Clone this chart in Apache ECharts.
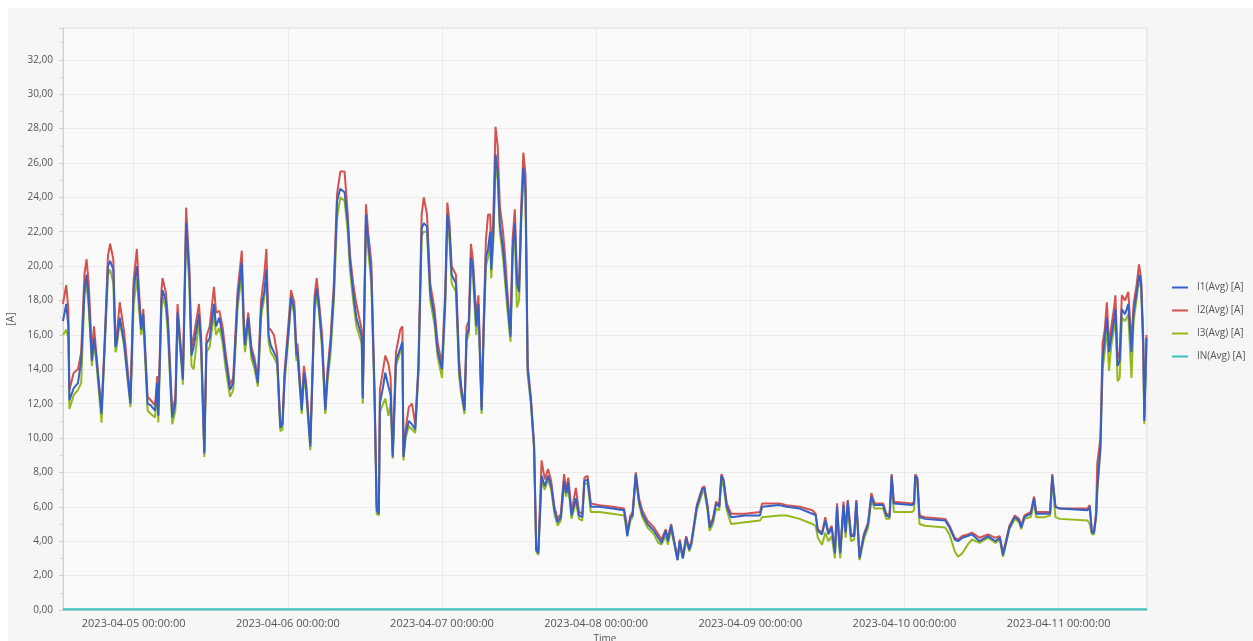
<!DOCTYPE html>
<html>
<head>
<meta charset="utf-8">
<script src="https://cdn.jsdelivr.net/npm/echarts@6/dist/echarts.min.js"></script>
<style>
html,body{margin:0;padding:0;background:#ffffff;}
#main{width:1253px;height:641px;}
</style>
</head>
<body>
<div id="main"></div>
<script>
// ---- data ----
const times = [
  // 2023-04-04
  '2023-04-04 13:00','2023-04-04 13:30','2023-04-04 13:50','2023-04-04 14:00','2023-04-04 14:40','2023-04-04 15:20','2023-04-04 15:50','2023-04-04 16:20','2023-04-04 16:40','2023-04-04 17:00',
  '2023-04-04 17:30','2023-04-04 17:50','2023-04-04 18:10','2023-04-04 19:00','2023-04-04 19:30','2023-04-04 20:00','2023-04-04 20:20','2023-04-04 20:50','2023-04-04 21:10','2023-04-04 21:20',
  '2023-04-04 21:50','2023-04-04 22:30','2023-04-04 23:30',
  // 2023-04-05
  '2023-04-05 00:00','2023-04-05 00:30','2023-04-05 00:50','2023-04-05 01:10','2023-04-05 01:30','2023-04-05 02:10','2023-04-05 02:40','2023-04-05 03:20','2023-04-05 03:40','2023-04-05 03:50',
  '2023-04-05 04:20','2023-04-05 04:30','2023-04-05 05:00','2023-04-05 05:20','2023-04-05 06:00','2023-04-05 06:30','2023-04-05 06:50','2023-04-05 07:20','2023-04-05 07:40','2023-04-05 08:10',
  '2023-04-05 08:40','2023-04-05 09:00','2023-04-05 09:20','2023-04-05 10:10','2023-04-05 10:30','2023-04-05 11:00','2023-04-05 11:20','2023-04-05 11:50','2023-04-05 12:30','2023-04-05 12:50',
  '2023-04-05 13:20','2023-04-05 13:50','2023-04-05 14:20','2023-04-05 15:00','2023-04-05 15:30','2023-04-05 16:10','2023-04-05 16:50','2023-04-05 17:10','2023-04-05 17:20','2023-04-05 17:50',
  '2023-04-05 18:20','2023-04-05 18:50','2023-04-05 19:20','2023-04-05 19:50','2023-04-05 20:20','2023-04-05 20:40','2023-04-05 21:00','2023-04-05 21:20','2023-04-05 21:50','2023-04-05 22:20',
  '2023-04-05 22:50','2023-04-05 23:10','2023-04-05 23:30',
  // 2023-04-06
  '2023-04-06 00:10','2023-04-06 00:30','2023-04-06 01:00','2023-04-06 01:20','2023-04-06 01:30','2023-04-06 02:10','2023-04-06 02:30','2023-04-06 02:50','2023-04-06 03:30','2023-04-06 04:10',
  '2023-04-06 04:30','2023-04-06 04:50','2023-04-06 05:20','2023-04-06 05:50','2023-04-06 06:10','2023-04-06 06:40','2023-04-06 07:10','2023-04-06 07:40','2023-04-06 08:10','2023-04-06 08:50',
  '2023-04-06 09:20','2023-04-06 09:40','2023-04-06 10:10','2023-04-06 10:40','2023-04-06 11:30','2023-04-06 11:40','2023-04-06 12:10','2023-04-06 12:30','2023-04-06 13:00','2023-04-06 13:30',
  '2023-04-06 13:50','2023-04-06 14:10','2023-04-06 14:20','2023-04-06 14:50','2023-04-06 15:10','2023-04-06 15:40','2023-04-06 16:00','2023-04-06 16:20','2023-04-06 16:50','2023-04-06 17:30',
  '2023-04-06 17:50','2023-04-06 18:00','2023-04-06 18:20','2023-04-06 18:50','2023-04-06 19:20','2023-04-06 19:50','2023-04-06 20:20','2023-04-06 20:50','2023-04-06 21:10','2023-04-06 21:40',
  '2023-04-06 22:10','2023-04-06 22:50','2023-04-06 23:20',
  // 2023-04-07
  '2023-04-07 00:00','2023-04-07 00:30','2023-04-07 00:50','2023-04-07 01:10','2023-04-07 01:30','2023-04-07 02:10','2023-04-07 02:40','2023-04-07 03:00','2023-04-07 03:30','2023-04-07 03:50',
  '2023-04-07 04:10','2023-04-07 04:30','2023-04-07 04:50','2023-04-07 05:20','2023-04-07 05:40','2023-04-07 06:10','2023-04-07 06:30','2023-04-07 06:50','2023-04-07 07:10','2023-04-07 07:30',
  '2023-04-07 07:40','2023-04-07 08:00','2023-04-07 08:20','2023-04-07 08:40','2023-04-07 09:00','2023-04-07 09:30','2023-04-07 09:50','2023-04-07 10:10','2023-04-07 10:40','2023-04-07 11:00',
  '2023-04-07 11:20','2023-04-07 11:40','2023-04-07 12:00','2023-04-07 12:20','2023-04-07 12:40','2023-04-07 13:00','2023-04-07 13:20','2023-04-07 13:50','2023-04-07 14:20','2023-04-07 14:40',
  '2023-04-07 15:00','2023-04-07 15:30','2023-04-07 16:00','2023-04-07 16:30','2023-04-07 17:00','2023-04-07 17:30','2023-04-07 18:00','2023-04-07 18:30','2023-04-07 19:00','2023-04-07 19:20',
  '2023-04-07 19:40','2023-04-07 20:10','2023-04-07 20:50','2023-04-07 21:20','2023-04-07 21:50','2023-04-07 22:10','2023-04-07 22:40','2023-04-07 23:10',
  // 2023-04-08
  '2023-04-08 00:30','2023-04-08 02:30','2023-04-08 04:20','2023-04-08 04:40','2023-04-08 04:50','2023-04-08 05:20','2023-04-08 05:40','2023-04-08 06:10','2023-04-08 06:40','2023-04-08 07:10',
  '2023-04-08 08:00','2023-04-08 09:00','2023-04-08 09:40','2023-04-08 10:10','2023-04-08 10:50','2023-04-08 11:10','2023-04-08 11:40','2023-04-08 12:10','2023-04-08 12:40','2023-04-08 13:00',
  '2023-04-08 13:30','2023-04-08 14:00','2023-04-08 14:30','2023-04-08 14:50','2023-04-08 15:40','2023-04-08 16:30','2023-04-08 16:50','2023-04-08 17:20','2023-04-08 17:40','2023-04-08 18:10',
  '2023-04-08 18:40','2023-04-08 19:10','2023-04-08 19:30','2023-04-08 19:50','2023-04-08 20:20','2023-04-08 21:00','2023-04-08 23:10',
  // 2023-04-09
  '2023-04-09 01:30','2023-04-09 01:50','2023-04-09 04:30','2023-04-09 05:40','2023-04-09 07:40','2023-04-09 09:40','2023-04-09 10:10','2023-04-09 10:30','2023-04-09 11:10','2023-04-09 11:40',
  '2023-04-09 12:10','2023-04-09 12:40','2023-04-09 13:10','2023-04-09 13:30','2023-04-09 13:50','2023-04-09 14:00','2023-04-09 14:30','2023-04-09 14:50','2023-04-09 15:10','2023-04-09 15:40',
  '2023-04-09 16:10','2023-04-09 16:30','2023-04-09 17:00','2023-04-09 17:40','2023-04-09 18:20','2023-04-09 18:50','2023-04-09 19:20','2023-04-09 20:40','2023-04-09 21:10','2023-04-09 21:40',
  '2023-04-09 22:00','2023-04-09 22:20',
  // 2023-04-10
  '2023-04-10 01:10','2023-04-10 01:30','2023-04-10 01:40','2023-04-10 02:00','2023-04-10 02:20','2023-04-10 03:10','2023-04-10 06:20','2023-04-10 07:00','2023-04-10 07:50','2023-04-10 08:20',
  '2023-04-10 09:00','2023-04-10 09:50','2023-04-10 10:30','2023-04-10 11:40','2023-04-10 13:00','2023-04-10 14:10','2023-04-10 14:50','2023-04-10 15:20','2023-04-10 15:50','2023-04-10 16:20',
  '2023-04-10 17:10','2023-04-10 17:50','2023-04-10 18:10','2023-04-10 18:40','2023-04-10 19:40','2023-04-10 20:10','2023-04-10 20:30','2023-04-10 21:50','2023-04-10 22:40','2023-04-10 23:00',
  '2023-04-10 23:30',
  // 2023-04-11
  '2023-04-11 00:10','2023-04-11 04:30','2023-04-11 04:50','2023-04-11 05:10','2023-04-11 05:30','2023-04-11 05:50','2023-04-11 06:00','2023-04-11 06:30','2023-04-11 06:50','2023-04-11 07:10',
  '2023-04-11 07:30','2023-04-11 07:50','2023-04-11 08:10','2023-04-11 08:40','2023-04-11 08:50','2023-04-11 09:10','2023-04-11 09:30','2023-04-11 09:50','2023-04-11 10:20','2023-04-11 10:50',
  '2023-04-11 11:20','2023-04-11 11:40','2023-04-11 12:10','2023-04-11 12:30','2023-04-11 12:50','2023-04-11 13:10','2023-04-11 13:20','2023-04-11 13:40'
];

const i1 = [
  16.8,17.8,16.5,12.2,12.9,13.2,14.5,18.5,19.5,18.0, 14.5,15.8,14.8,11.4,15.5,20.0,20.3,19.8,15.3,15.5, 17.0,15.6,12.0,
  18.7,20.0,18.0,16.3,17.2,12.0,11.9,11.6,13.2,11.3, 18.0,18.6,18.0,16.6,11.2,12.0,17.3,15.0,13.4,22.5, 19.5,14.8,15.3,17.2,15.5,9.1,15.5,15.8,17.8,16.5, 17.0,16.0,14.5,12.8,13.2,18.0,20.2,16.2,15.4,17.0, 15.0,14.3,13.2,17.5,18.5,19.8,16.0,15.4,15.0,14.6, 10.6,10.8,13.6,
  16.5,18.2,17.5,14.8,15.0,11.6,13.8,13.0,9.5,17.8, 18.7,17.7,15.5,11.6,13.6,15.5,18.5,23.8,24.5,24.3, 22.5,20.3,18.5,17.0,15.9,12.3,23.0,21.5,19.5,12.5, 5.8,5.6,12.0,13.0,13.8,13.0,12.5,8.9,14.5,15.2, 15.6,8.9,10.2,11.0,10.8,10.5,14.0,22.2,22.5,22.3, 18.5,17.0,15.0,
  14.0,18.0,23.0,22.0,19.5,19.0,14.0,12.8,11.6,16.0, 16.3,20.5,19.8,16.5,17.8,11.6,16.5,20.5,21.0,22.0, 19.8,22.0,26.5,25.5,22.5,21.0,19.5,18.0,15.9,21.0, 22.5,19.0,18.5,23.0,25.7,24.5,14.0,12.2,9.5,3.5, 3.3,7.8,7.2,7.8,7.2,5.8,5.1,5.4,7.5,6.8, 7.4,5.5,6.5,5.5,5.4,7.5,7.6,6.0,
  6.0,5.9,5.8,5.0,4.3,5.4,5.5,7.9,6.3,5.6, 5.0,4.6,4.2,3.9,4.6,4.0,4.9,3.9,2.9,4.0, 3.0,4.2,3.5,3.9,6.0,7.0,7.1,6.0,4.8,5.2, 6.2,6.0,7.8,7.5,6.0,5.4,5.5,
  5.5,6.0,6.1,6.0,5.9,5.6,5.5,4.6,4.4,5.2, 4.4,4.8,3.3,6.0,4.0,3.3,6.1,4.5,6.3,4.3, 4.3,6.3,3.0,4.3,5.0,6.6,6.1,6.1,5.5,5.4, 7.8,6.2,
  6.1,6.2,7.8,7.6,5.4,5.3,5.2,4.8,4.1,4.0, 4.2,4.3,4.4,4.0,4.3,4.0,4.2,3.2,4.0,4.8, 5.4,5.2,4.8,5.4,5.6,6.5,5.6,5.6,5.6,7.8, 6.0,
  5.9,5.8,6.0,4.5,4.5,5.5,7.0,9.5,14.5,15.8, 17.0,15.0,15.8,17.0,17.5,14.2,14.5,17.5,17.2,17.8, 15.0,17.3,18.5,19.5,19.0,15.5,11.0,15.8
];

const i2 = [
  17.8,18.9,17.5,12.8,13.8,14.0,15.0,19.5,20.4,19.0, 15.0,16.5,15.0,11.6,15.8,20.6,21.3,20.4,15.6,15.8, 17.9,16.2,12.3,
  19.2,21.0,18.6,16.5,17.5,12.4,12.2,11.9,13.6,11.6, 18.6,19.3,18.5,17.0,11.5,12.4,17.8,15.3,13.6,23.4, 20.0,15.2,15.9,17.8,16.0,9.2,15.9,16.5,18.8,17.3, 17.4,16.5,14.9,13.1,13.5,18.5,20.9,16.6,15.7,17.3, 15.3,14.6,13.4,18.0,19.5,21.0,16.4,16.3,16.0,14.9, 10.8,11.0,13.9,
  17.0,18.6,17.9,15.2,15.5,11.8,14.2,13.3,9.7,18.3, 19.3,18.0,16.0,11.8,13.9,15.9,19.0,24.2,25.5,25.5, 23.0,20.7,19.0,17.8,16.3,12.5,23.6,22.0,20.2,12.8, 6.0,5.8,12.8,14.0,14.8,14.3,13.5,9.0,15.0,16.3, 16.5,9.0,10.5,11.8,12.0,10.8,14.3,23.0,24.0,23.0, 19.0,17.5,15.5,
  14.3,18.5,23.7,22.5,20.0,19.5,14.5,13.0,11.8,16.5, 16.8,21.3,20.3,17.0,18.3,11.8,17.0,21.5,23.0,23.0, 20.3,23.0,28.1,27.0,23.5,22.0,20.5,18.6,16.3,21.6, 23.3,19.5,19.0,23.5,26.6,25.3,14.3,12.4,9.7,3.6, 3.5,8.7,7.6,8.2,7.5,6.0,5.3,5.6,7.9,7.0, 7.7,5.7,7.1,5.7,5.6,7.7,7.8,6.2,
  6.1,6.0,5.9,5.2,4.5,5.5,5.7,8.0,6.5,5.8, 5.2,4.8,4.4,4.1,4.7,4.2,5.0,4.0,3.0,4.1, 3.1,4.3,3.6,4.0,6.1,7.1,7.2,6.1,5.0,5.3, 6.3,6.1,7.9,7.6,6.2,5.6,5.6,
  5.7,6.2,6.2,6.1,6.0,5.8,5.6,4.7,4.5,5.4, 4.5,4.9,3.4,6.2,4.1,3.4,6.3,4.6,6.4,4.4, 4.4,6.4,3.1,4.4,5.1,6.8,6.2,6.2,5.6,5.5, 7.9,6.3,
  6.2,6.3,7.9,7.7,5.5,5.4,5.3,4.9,4.2,4.1, 4.3,4.4,4.5,4.2,4.4,4.2,4.3,3.3,4.1,4.9, 5.5,5.3,4.9,5.5,5.7,6.6,5.7,5.7,5.7,7.9, 6.0,
  5.9,5.9,6.1,4.6,4.6,5.7,8.5,10.0,15.5,16.3, 17.9,15.5,16.4,17.7,18.3,14.6,15.0,18.3,18.0,18.5, 15.5,17.8,19.0,20.1,19.3,15.8,11.2,16.0
];

const i3 = [
  16.0,16.3,15.8,11.7,12.5,12.8,13.2,18.3,19.0,17.6, 14.2,15.5,14.5,10.9,15.3,19.5,19.8,19.0,15.0,15.2, 16.8,15.4,11.8,
  17.8,19.3,17.5,16.0,16.8,11.6,11.4,11.2,12.9,10.9, 17.6,18.2,17.6,16.0,10.8,11.6,17.0,14.8,13.1,22.0, 19.0,14.2,14.0,16.8,15.0,8.9,15.0,15.3,17.2,16.0, 16.4,15.6,14.0,12.4,12.8,17.5,19.6,15.8,15.0,16.6, 14.6,14.0,13.0,17.0,18.2,19.3,15.6,15.0,14.7,14.3, 10.4,10.5,13.3,
  16.2,17.9,17.2,14.5,14.7,11.4,13.5,12.7,9.3,17.4, 18.3,17.4,15.2,11.4,13.2,15.0,18.0,22.8,24.0,23.8, 22.0,19.8,18.0,16.5,15.5,12.0,22.5,21.0,19.0,12.2, 5.6,5.5,11.5,12.0,12.3,11.3,12.0,8.8,14.2,15.0, 15.3,8.7,10.0,10.7,10.5,10.3,13.8,21.8,22.0,22.0, 18.0,16.6,14.7,
  13.5,17.6,22.6,21.5,19.0,18.5,13.6,12.5,11.4,15.7, 16.0,20.0,19.3,16.0,17.5,11.4,16.2,20.0,20.5,21.3, 19.3,21.5,26.0,25.0,22.0,20.5,19.0,17.5,15.6,20.5, 22.0,17.6,18.0,22.5,25.3,24.0,13.7,12.0,9.3,3.4, 3.2,7.5,7.0,7.6,7.0,5.6,4.9,5.2,7.3,6.6, 7.2,5.3,6.3,5.3,5.2,7.3,7.4,5.7,
  5.7,5.6,5.5,4.8,4.3,5.2,5.4,7.7,6.2,5.4, 4.8,4.4,3.9,3.8,4.3,3.8,4.7,3.8,2.9,3.8, 3.0,4.0,3.4,3.8,5.8,6.8,6.9,5.8,4.6,5.0, 5.9,5.8,7.5,7.2,5.8,5.0,5.1,
  5.2,5.4,5.5,5.5,5.3,5.0,4.9,4.2,3.8,4.5, 4.0,4.3,3.0,5.6,3.7,3.0,5.8,4.2,6.0,4.0, 4.1,6.1,2.9,4.1,4.8,6.4,5.9,5.9,5.3,5.3, 7.5,5.7,
  5.7,5.8,7.6,7.3,5.0,4.9,4.8,4.4,3.4,3.1, 3.3,3.8,4.1,3.9,4.2,3.9,4.1,3.1,3.9,4.7, 5.3,5.1,4.7,5.3,5.4,6.3,5.4,5.4,5.5,7.6, 5.4,
  5.3,5.2,5.0,4.4,4.4,5.4,6.8,9.3,14.0,15.0, 16.5,13.9,15.3,16.5,17.0,13.3,13.5,17.0,16.8,17.2, 13.5,16.8,18.2,19.2,18.7,15.0,10.8,15.5
];

const inTimes = ['2023-04-04 13:00', '2023-04-11 13:45'];
const inValues = [0.05, 0.05];

const seriesNames = ['I1(Avg) [A]', 'I2(Avg) [A]', 'I3(Avg) [A]', 'IN(Avg) [A]'];
const seriesColors = ['#3561c6', '#d4524d', '#95b91c', '#3fc1c0'];
const yTickValues = [0, 32];
const xRange = ['2023-04-04 13:00', '2023-04-11 13:45'];

// ---- chart ----
const pairs = (ts, vals) => ts.map((t, k) => [t, vals[k]]);
const chart = echarts.init(document.getElementById('main'), null, {renderer: 'canvas'});
const lineSeries = (idx, ts, vals, z) => ({
  name: seriesNames[idx],
  type: 'line',
  data: pairs(ts, vals),
  symbol: 'none',
  showSymbol: false,
  z: z,
  lineStyle: {color: seriesColors[idx], width: 2},
  itemStyle: {color: seriesColors[idx]},
  animation: false
});

chart.setOption({
  animation: false,
  backgroundColor: '#ffffff',
  textStyle: {fontFamily: 'Open Sans, Noto Sans, sans-serif'},
  graphic: [{
    type: 'rect', z: -100, silent: true,
    shape: {x: 8, y: 8, width: 1245, height: 633},
    style: {fill: '#f6f6f6'}
  }],
  grid: {
    left: 63, right: 106, top: 28, bottom: 31,
    outerBoundsMode: 'none', containLabel: false,
    show: true, backgroundColor: '#fafafa', borderColor: '#dcdcdc', borderWidth: 1
  },
  legend: {
    orient: 'vertical',
    left: 1167, top: 276,
    icon: 'rect',
    itemWidth: 16, itemHeight: 2, itemGap: 10,
    data: seriesNames,
    textStyle: {fontSize: 10, color: '#555', fontFamily: 'Open Sans, sans-serif', padding: [0, 0, 0, 4], lineHeight: 13}
  },
  xAxis: {
    type: 'time',
    min: xRange[0], max: xRange[1],
    minInterval: 86400000, maxInterval: 86400000,
    name: 'Time', nameLocation: 'middle', nameGap: 21,
    nameTextStyle: {fontSize: 10, color: '#555'},
    axisLine: {show: true, lineStyle: {color: '#cfcfcf'}},
    axisTick: {show: false},
    axisLabel: {
      fontSize: 11, color: '#555', margin: 8, hideOverlap: false,
      formatter: v => echarts.time.format(v, '{yyyy}-{MM}-{dd} {HH}:{mm}:{ss}', false)
    },
    splitLine: {show: true, lineStyle: {color: '#ebebeb'}}
  },
  yAxis: {
    type: 'value',
    min: yTickValues[0], max: 33.85, interval: 2,
    name: '[A]', nameLocation: 'middle', nameGap: 40,
    nameTextStyle: {fontSize: 10, color: '#555'},
    axisLine: {show: true, lineStyle: {color: '#cfcfcf'}},
    axisTick: {show: true, length: 4, lineStyle: {color: '#cfcfcf'}},
    minorTick: {show: true, splitNumber: 2, length: 3, lineStyle: {color: '#d8d8d8'}},
    axisLabel: {
      fontSize: 10, color: '#555', margin: 10, showMaxLabel: false,
      formatter: v => v.toFixed(2).replace('.', ',')
    },
    splitLine: {show: true, lineStyle: {color: '#ebebeb'}}
  },
  series: [
    lineSeries(2, times, i3, 2),
    lineSeries(1, times, i2, 3),
    lineSeries(0, times, i1, 4),
    lineSeries(3, inTimes, inValues, 5)
  ]
});
</script>
</body>
</html>
